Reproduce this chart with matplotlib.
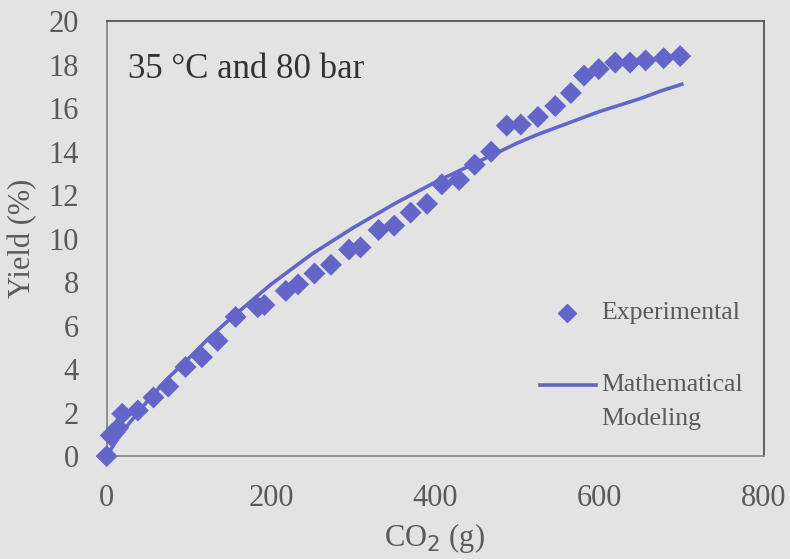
import matplotlib
matplotlib.use("Agg")
import matplotlib.pyplot as plt
from matplotlib.lines import Line2D

# Experimental points
exp_co2 = [0, 5, 10, 14, 19, 38, 57, 75, 96, 116, 135, 157, 184, 192, 218, 233,
           253, 273, 295, 309, 331, 350, 370, 390, 408, 429, 448, 468, 487, 504,
           525, 546, 565, 581, 599, 619, 637, 656, 678, 698]
exp_yield = [0.0, 0.95, 1.1, 1.3, 1.95, 2.1, 2.7, 3.2, 4.1, 4.55, 5.3, 6.4, 6.85, 6.95,
             7.6, 7.9, 8.4, 8.8, 9.5, 9.6, 10.4, 10.6, 11.2, 11.6, 12.5, 12.7, 13.4,
             14.0, 15.2, 15.25, 15.6, 16.1, 16.7, 17.5, 17.8, 18.1, 18.1, 18.2, 18.3, 18.4]

# Model curve
model_co2 = [0, 10, 25, 50, 75, 100, 125, 150, 175, 200, 225, 250, 275, 300, 325, 350,
             375, 400, 425, 450, 475, 500, 525, 550, 575, 600, 625, 650, 675, 700]
model_yield = [0.0, 0.6, 1.4, 2.55, 3.6, 4.5, 5.45, 6.3, 7.1, 7.9, 8.6, 9.3, 9.9, 10.5,
               11.05, 11.6, 12.1, 12.6, 13.05, 13.5, 13.95, 14.4, 14.8, 15.15, 15.5,
               15.85, 16.15, 16.45, 16.8, 17.1]

color = "#6366c8"
bg = "#e3e3e3"
tick_col = '#5a5a5a'

plt.rcParams['font.family'] = ['Liberation Serif', 'DejaVu Serif']

fig = plt.figure(figsize=(7.9, 5.59), dpi=100, facecolor=bg)
ax = fig.add_axes([0.135, 0.184, 0.832, 0.778], facecolor=bg)

ax.plot(model_co2, model_yield, color=color, lw=2.6, zorder=2)
ax.scatter(exp_co2, exp_yield, marker='D', s=125, color=color, edgecolors='none',
           zorder=3, clip_on=False)

ax.set_xlim(0, 800)
ax.set_ylim(0, 20)
ax.set_xticks(range(0, 801, 200))
ax.set_yticks(range(0, 21, 2))
ax.tick_params(axis='both', length=0, labelsize=22, colors=tick_col)
ax.tick_params(axis='y', pad=20)
ax.tick_params(axis='x', pad=20)
for name, s in ax.spines.items():
    s.set_linewidth(1.3)
    s.set_color('#555555' if name in ('top', 'right') else '#8a8a8a')

ax.set_xlabel("CO$_2$ (g)", fontsize=22, color=tick_col)
ax.set_ylabel("Yield (%)", fontsize=22, color=tick_col)
ax.xaxis.set_label_coords(0.498, -0.150)
ax.yaxis.set_label_coords(-0.105, 0.5)

ax.text(0.032, 0.888, "35 °C and 80 bar", transform=ax.transAxes, fontsize=25,
        color='#333333', va='center', ha='left')

# legend, drawn by hand so the line key sits on the first text line
ax.add_line(Line2D([0.701], [0.328], marker='D', color=color, markersize=9,
                   linestyle='none', transform=ax.transAxes))
ax.add_line(Line2D([0.659, 0.745], [0.163, 0.163], color=color, lw=2.6,
                   transform=ax.transAxes))
leg_kw = dict(transform=ax.transAxes, fontsize=18.5, color=tick_col, va='center', ha='left')
ax.text(0.752, 0.328, "Experimental", **leg_kw)
ax.text(0.752, 0.163, "Mathematical", **leg_kw)
ax.text(0.752, 0.085, "Modeling", **leg_kw)

fig.savefig("out.png", dpi=100, facecolor=bg)
